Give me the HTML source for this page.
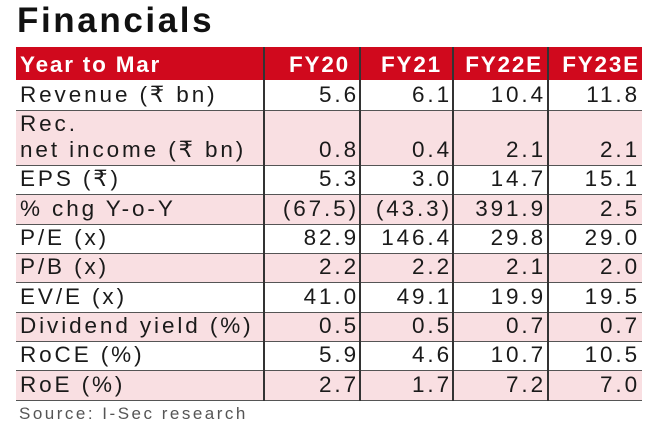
<!DOCTYPE html>
<html><head><meta charset="utf-8"><style>
body{margin:0;width:660px;height:440px;background:#fff;position:relative;overflow:hidden;font-family:"Liberation Sans",sans-serif;color:#1a1a1a}
.t{position:absolute;left:17px;top:1px;font-size:35px;font-weight:bold;letter-spacing:2.6px;color:#111}
.row{position:absolute;left:16px;width:626px;border-bottom:1.5px solid #555;box-sizing:border-box}
.c{position:absolute;bottom:2px;font-size:22.5px;letter-spacing:2.9px;line-height:26px;white-space:nowrap}
.l{left:4px}
.v{position:absolute;top:47px;width:1.5px;height:354px;background:#333}
.src{position:absolute;left:19px;top:404px;font-size:17px;letter-spacing:2.5px;color:#555}
</style></head><body>
<div class="t">Financials</div>
<div class="row" style="top:47px;height:33px;background:#d0091d;color:#fff;border-bottom:none">
<div class="c l" style="font-weight:bold;color:#fff;letter-spacing:1.8px">Year to Mar</div>
<div class="c" style="right:292px;font-weight:bold;color:#fff;letter-spacing:1.8px">FY20</div>
<div class="c" style="right:200px;font-weight:bold;color:#fff;letter-spacing:1.8px">FY21</div>
<div class="c" style="right:99px;font-weight:bold;color:#fff;letter-spacing:1.8px">FY22E</div>
<div class="c" style="right:2px;font-weight:bold;color:#fff;letter-spacing:1.8px">FY23E</div>
</div>
<div id="rows"></div>
<div class="v" style="left:263px"></div>
<div class="v" style="left:359px"></div>
<div class="v" style="left:452px"></div>
<div class="v" style="left:547px"></div>
<div class="src">Source: I-Sec research</div>
<script>
var d=[["Revenue (₹ bn)","5.6","6.1","10.4","11.8"],["Rec.<br>net income (₹ bn)","0.8","0.4","2.1","2.1"],["EPS (₹)","5.3","3.0","14.7","15.1"],["% chg Y-o-Y","(67.5)","(43.3)","391.9","2.5"],["P/E (x)","82.9","146.4","29.8","29.0"],["P/B (x)","2.2","2.2","2.1","2.0"],["EV/E (x)","41.0","49.1","19.9","19.5"],["Dividend yield (%)","0.5","0.5","0.7","0.7"],["RoCE (%)","5.9","4.6","10.7","10.5"],["RoE (%)","2.7","1.7","7.2","7.0"]];
var tops=[80,111,166,195.3,224.6,254,283.3,312.6,342,371.3,401];
var h="";
for(var i=0;i<d.length;i++){var r=d[i];var bg=(i%2)?"#f9dfe2":"#fff";
h+='<div class="row" style="top:'+tops[i]+'px;height:'+(tops[i+1]-tops[i])+'px;background:'+bg+'">'+
'<div class="c l">'+r[0]+'</div><div class="c" style="right:283px">'+r[1]+'</div><div class="c" style="right:190px">'+r[2]+'</div><div class="c" style="right:96px">'+r[3]+'</div><div class="c" style="right:2px">'+r[4]+'</div></div>';}
document.getElementById("rows").innerHTML=h;
</script>
</body></html>
